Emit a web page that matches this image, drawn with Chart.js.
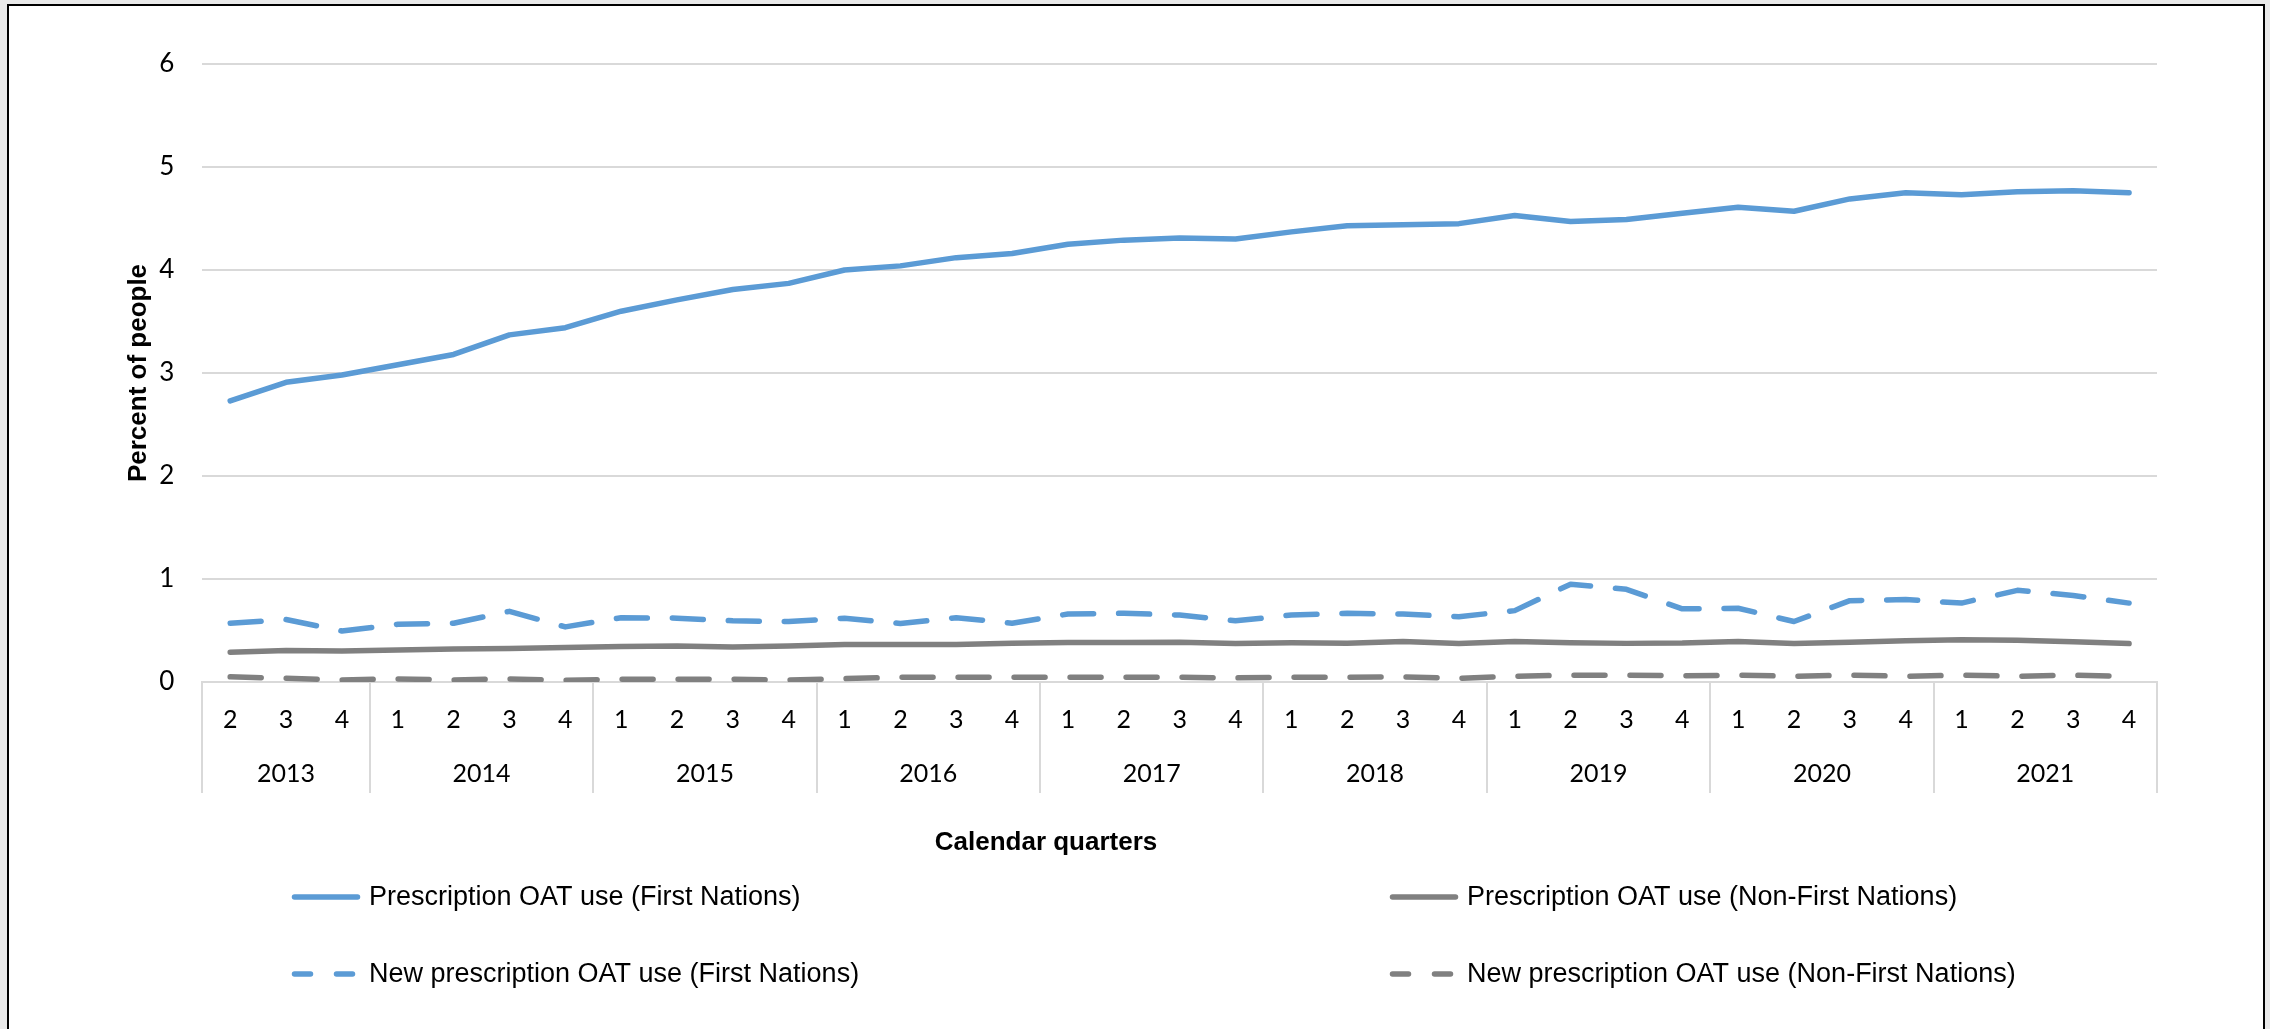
<!DOCTYPE html>
<html>
<head>
<meta charset="utf-8">
<script src="https://cdn.jsdelivr.net/npm/chart.js@4.4.1/dist/chart.umd.min.js"></script>
<style>
  html, body { margin: 0; padding: 0; background: #e9e9e9; overflow: hidden; }
  #frame { position: absolute; left: 7px; top: 4px; width: 2258px; height: 1100px; background: #fff; border: 2px solid #000; box-sizing: border-box; }
  #chart { position: absolute; left: 0; top: 0; }
</style>
</head>
<body>
<div id="frame"></div>
<canvas id="chart" width="2270" height="1029"></canvas>
<script>
// quarters 2013 Q2 .. 2021 Q4, values are percent of people
const quarterLabels = ['2', '3', '4',
    '1', '2', '3', '4', '1', '2', '3', '4', '1', '2', '3', '4', '1', '2', '3', '4',
    '1', '2', '3', '4', '1', '2', '3', '4', '1', '2', '3', '4', '1', '2', '3', '4'];
const yearLabels = ['2013', '2014', '2015', '2016', '2017', '2018', '2019', '2020', '2021'];

const oatFirstNations = [2.73, 2.91, 2.98, 3.08, 3.18, 3.37, 3.44, 3.60, 3.71, 3.81, 3.87, 4.00,
    4.04, 4.12, 4.16, 4.25, 4.29, 4.31, 4.30, 4.37, 4.43, 4.44, 4.45, 4.53, 4.47, 4.49, 4.55,
    4.61, 4.57, 4.69, 4.75, 4.73, 4.76, 4.77, 4.75];
const oatNonFirstNations = [0.29, 0.305, 0.30, 0.31, 0.32, 0.325, 0.335, 0.345, 0.35, 0.34, 0.35,
    0.363, 0.363, 0.363, 0.376, 0.383, 0.383, 0.385, 0.373, 0.38, 0.376, 0.393, 0.373, 0.393,
    0.38, 0.375, 0.378, 0.393, 0.373, 0.386, 0.40, 0.41, 0.405, 0.39, 0.373];
const newOatFirstNations = [0.57, 0.607, 0.495, 0.56, 0.57, 0.686, 0.535, 0.624, 0.62, 0.594,
    0.587, 0.62, 0.568, 0.624, 0.571, 0.66, 0.667, 0.65, 0.594, 0.65, 0.667, 0.66, 0.634, 0.693,
    0.95, 0.90, 0.71, 0.716, 0.587, 0.79, 0.80, 0.766, 0.89, 0.84, 0.766];
const newOatNonFirstNations = [0.05, 0.036, 0.02, 0.03, 0.02, 0.03, 0.017, 0.027, 0.027, 0.026,
    0.02, 0.033, 0.046, 0.046, 0.046, 0.046, 0.046, 0.046, 0.04, 0.046, 0.046, 0.05, 0.036,
    0.056, 0.066, 0.066, 0.06, 0.066, 0.056, 0.066, 0.056, 0.066, 0.056, 0.066, 0.053];

const blue = '#5b9bd5';
const grey = '#808080';
const gridColor = '#d9d9d9';
const tickFont = { family: 'Lato', size: 25 };

// year groups: a new year starts at every quarter '1'
const yearBounds = [-0.5];
quarterLabels.forEach((q, i) => { if (q === '1') yearBounds.push(i - 0.5); });
yearBounds.push(quarterLabels.length - 0.5);
const yearCenters = yearBounds.slice(1).map((b, i) => (b + yearBounds[i]) / 2);

// vertical dividers between the year groups under the axis
const yearDividers = {
    id: 'yearDividers',
    afterDraw(chart) {
        const x = chart.scales.x;
        const years = chart.scales.years;
        const ctx = chart.ctx;
        ctx.save();
        ctx.strokeStyle = gridColor;
        ctx.lineWidth = 2;
        yearBounds.forEach(b => {
            const px = Math.round(years.getPixelForValue(b));
            ctx.beginPath();
            ctx.moveTo(px, x.top);
            ctx.lineTo(px, years.bottom + 4);
            ctx.stroke();
        });
        ctx.restore();
    }
};

// x title + two-column legend under the chart
const bottomLegend = {
    id: 'bottomLegend',
    afterDraw(chart) {
        const ctx = chart.ctx;
        ctx.save();
        ctx.fillStyle = '#000';
        ctx.textBaseline = 'middle';
        ctx.font = 'bold 26px "Liberation Sans"';
        ctx.textAlign = 'center';
        ctx.fillText('Calendar quarters', 1046, 843);

        const cols = [292, 1390];
        const rows = [897, 974];
        ctx.font = '27px "Liberation Sans"';
        ctx.textAlign = 'left';
        chart.data.datasets.forEach((ds, i) => {
            const lx = cols[i % 2];
            const ly = rows[Math.floor(i / 2)];
            ctx.strokeStyle = ds.borderColor;
            ctx.lineWidth = 5.5;
            ctx.lineCap = 'round';
            ctx.setLineDash(ds.borderDash ? [16, 26] : []);
            ctx.beginPath();
            ctx.moveTo(lx + 2.5, ly);
            ctx.lineTo(lx + 65.5, ly);
            ctx.stroke();
            ctx.setLineDash([]);
            ctx.fillText(ds.label, lx + 77, ly + 1);
        });
        ctx.restore();
    }
};

const lineStyle = { fill: false, tension: 0, pointRadius: 0, borderWidth: 5.5,
    borderCapStyle: 'round', borderJoinStyle: 'round' };

new Chart(document.getElementById('chart'), {
    type: 'line',
    data: {
        labels: quarterLabels,
        datasets: [
            { ...lineStyle, label: 'Prescription OAT use (First Nations)',
              data: oatFirstNations, borderColor: blue, backgroundColor: blue },
            { ...lineStyle, label: 'Prescription OAT use (Non-First Nations)',
              data: oatNonFirstNations, borderColor: grey, backgroundColor: grey },
            { ...lineStyle, label: 'New prescription OAT use (First Nations)',
              data: newOatFirstNations, borderColor: blue, backgroundColor: blue, borderDash: [31, 25] },
            { ...lineStyle, label: 'New prescription OAT use (Non-First Nations)',
              data: newOatNonFirstNations, borderColor: grey, backgroundColor: grey, borderDash: [31, 25] }
        ]
    },
    options: {
        responsive: false,
        animation: false,
        devicePixelRatio: 1,
        layout: { padding: { left: 119, right: 113, top: 64, bottom: 240 } },
        scales: {
            x: {
                type: 'category',
                offset: true,
                weight: 0,
                grid: { display: false, drawTicks: true, tickLength: 23 },
                border: { display: true, color: gridColor, width: 2 },
                ticks: { font: tickFont, color: '#000', padding: 0, maxRotation: 0, autoSkip: false }
            },
            years: {
                type: 'linear',
                position: 'bottom',
                weight: 1,
                min: -0.5,
                max: quarterLabels.length - 0.5,
                grid: { display: false, drawTicks: true, tickLength: 24 },
                border: { display: false },
                afterBuildTicks: scale => { scale.ticks = yearCenters.map(v => ({ value: v })); },
                ticks: { font: tickFont, color: '#000', padding: 0, maxRotation: 0, autoSkip: false,
                         callback: (val, i) => yearLabels[i] }
            },
            y: {
                min: 0,
                max: 6,
                grid: { color: gridColor, lineWidth: 2, drawTicks: false },
                border: { display: false },
                ticks: { stepSize: 1, font: { family: 'Lato', size: 26 }, color: '#000', padding: 28 },
                title: { display: true, text: 'Percent of people', color: '#000',
                         padding: { top: 4, bottom: -23 },
                         font: { family: 'Liberation Sans', size: 26, weight: 'bold' } }
            }
        },
        plugins: {
            legend: { display: false },
            tooltip: { enabled: false }
        }
    },
    plugins: [yearDividers, bottomLegend]
});
</script>
</body>
</html>
